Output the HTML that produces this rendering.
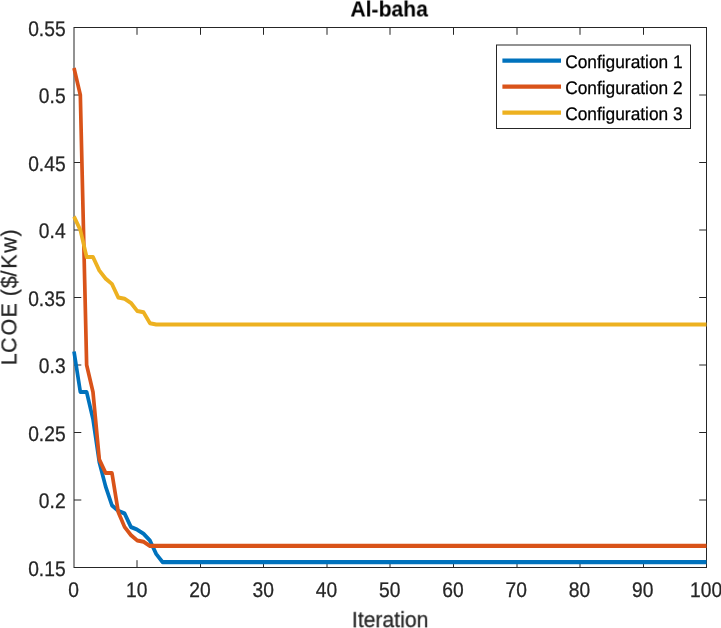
<!DOCTYPE html>
<html><head><meta charset="utf-8"><title>Al-baha</title>
<style>
html,body{margin:0;padding:0;background:#fff;}
body{width:721px;height:628px;overflow:hidden;}
svg{display:block;}
text{font-family:"Liberation Sans",sans-serif;fill:#262626;stroke:#262626;stroke-width:0.25px;}
.t{font-size:19.25px;}
.l{font-size:21.5px;}
.g{font-size:17.35px;fill:#000;stroke:#000;}
</style></head><body>
<svg width="721" height="628" viewBox="0 0 721 628">
<rect x="0" y="0" width="721" height="628" fill="#fff"/>
<g style="will-change:transform">
<defs><clipPath id="c"><rect x="72" y="26" width="636.5" height="543.5"/></clipPath></defs>

<g stroke="#262626" stroke-width="1" fill="none">
<rect x="74.00" y="27.50" width="632.50" height="540.00"/>
<path d="M137.00 567.50v-7.30 M137.00 27.50v7.30"/>
<path d="M200.50 567.50v-7.30 M200.50 27.50v7.30"/>
<path d="M263.50 567.50v-7.30 M263.50 27.50v7.30"/>
<path d="M327.00 567.50v-7.30 M327.00 27.50v7.30"/>
<path d="M390.00 567.50v-7.30 M390.00 27.50v7.30"/>
<path d="M453.50 567.50v-7.30 M453.50 27.50v7.30"/>
<path d="M517.00 567.50v-7.30 M517.00 27.50v7.30"/>
<path d="M580.00 567.50v-7.30 M580.00 27.50v7.30"/>
<path d="M643.50 567.50v-7.30 M643.50 27.50v7.30"/>
<path d="M74.00 500.00h7.30 M706.50 500.00h-7.30"/>
<path d="M74.00 432.50h7.30 M706.50 432.50h-7.30"/>
<path d="M74.00 365.00h7.30 M706.50 365.00h-7.30"/>
<path d="M74.00 297.50h7.30 M706.50 297.50h-7.30"/>
<path d="M74.00 230.00h7.30 M706.50 230.00h-7.30"/>
<path d="M74.00 162.50h7.30 M706.50 162.50h-7.30"/>
<path d="M74.00 95.00h7.30 M706.50 95.00h-7.30"/>
</g>
<g clip-path="url(#c)"><g transform="scale(1,1.1)" fill="none" stroke-width="3.7" stroke-linejoin="round" stroke-linecap="butt">
<polyline stroke="#0072BD" points="74.00,319.545 80.33,356.364 86.65,356.364 92.97,380.909 99.30,420.182 105.62,442.273 111.95,459.455 118.28,464.364 124.60,466.818 130.93,479.091 137.25,481.545 143.57,485.227 149.90,491.364 156.22,503.636 162.55,511.000 168.88,511.000 175.20,511.000 181.53,511.000 187.85,511.000 194.18,511.000 200.50,511.000 206.82,511.000 213.15,511.000 219.47,511.000 225.80,511.000 232.12,511.000 238.45,511.000 244.78,511.000 251.10,511.000 257.43,511.000 263.75,511.000 270.07,511.000 276.40,511.000 282.73,511.000 289.05,511.000 295.38,511.000 301.70,511.000 308.02,511.000 314.35,511.000 320.68,511.000 327.00,511.000 333.32,511.000 339.65,511.000 345.98,511.000 352.30,511.000 358.62,511.000 364.95,511.000 371.27,511.000 377.60,511.000 383.93,511.000 390.25,511.000 396.57,511.000 402.90,511.000 409.23,511.000 415.55,511.000 421.88,511.000 428.20,511.000 434.52,511.000 440.85,511.000 447.18,511.000 453.50,511.000 459.82,511.000 466.15,511.000 472.48,511.000 478.80,511.000 485.12,511.000 491.45,511.000 497.77,511.000 504.10,511.000 510.43,511.000 516.75,511.000 523.08,511.000 529.40,511.000 535.73,511.000 542.05,511.000 548.38,511.000 554.70,511.000 561.02,511.000 567.35,511.000 573.67,511.000 580.00,511.000 586.33,511.000 592.65,511.000 598.98,511.000 605.30,511.000 611.62,511.000 617.95,511.000 624.27,511.000 630.60,511.000 636.92,511.000 643.25,511.000 649.58,511.000 655.90,511.000 662.23,511.000 668.55,511.000 674.88,511.000 681.20,511.000 687.52,511.000 693.85,511.000 700.17,511.000 706.50,511.000"/>
<polyline stroke="#D95319" points="74.00,61.818 80.33,86.364 86.65,331.818 92.97,356.364 99.30,417.727 105.62,430.000 111.95,430.000 118.28,465.591 124.60,479.091 130.93,486.455 137.25,491.364 143.57,492.591 149.90,496.273 156.22,496.273 162.55,496.273 168.88,496.273 175.20,496.273 181.53,496.273 187.85,496.273 194.18,496.273 200.50,496.273 206.82,496.273 213.15,496.273 219.47,496.273 225.80,496.273 232.12,496.273 238.45,496.273 244.78,496.273 251.10,496.273 257.43,496.273 263.75,496.273 270.07,496.273 276.40,496.273 282.73,496.273 289.05,496.273 295.38,496.273 301.70,496.273 308.02,496.273 314.35,496.273 320.68,496.273 327.00,496.273 333.32,496.273 339.65,496.273 345.98,496.273 352.30,496.273 358.62,496.273 364.95,496.273 371.27,496.273 377.60,496.273 383.93,496.273 390.25,496.273 396.57,496.273 402.90,496.273 409.23,496.273 415.55,496.273 421.88,496.273 428.20,496.273 434.52,496.273 440.85,496.273 447.18,496.273 453.50,496.273 459.82,496.273 466.15,496.273 472.48,496.273 478.80,496.273 485.12,496.273 491.45,496.273 497.77,496.273 504.10,496.273 510.43,496.273 516.75,496.273 523.08,496.273 529.40,496.273 535.73,496.273 542.05,496.273 548.38,496.273 554.70,496.273 561.02,496.273 567.35,496.273 573.67,496.273 580.00,496.273 586.33,496.273 592.65,496.273 598.98,496.273 605.30,496.273 611.62,496.273 617.95,496.273 624.27,496.273 630.60,496.273 636.92,496.273 643.25,496.273 649.58,496.273 655.90,496.273 662.23,496.273 668.55,496.273 674.88,496.273 681.20,496.273 687.52,496.273 693.85,496.273 700.17,496.273 706.50,496.273"/>
<polyline stroke="#EDB120" points="74.00,196.818 80.33,209.091 86.65,233.636 92.97,233.636 99.30,245.909 105.62,253.273 111.95,258.182 118.28,270.455 124.60,271.682 130.93,275.364 137.25,282.727 143.57,283.955 149.90,293.773 156.22,295.000 162.55,295.000 168.88,295.000 175.20,295.000 181.53,295.000 187.85,295.000 194.18,295.000 200.50,295.000 206.82,295.000 213.15,295.000 219.47,295.000 225.80,295.000 232.12,295.000 238.45,295.000 244.78,295.000 251.10,295.000 257.43,295.000 263.75,295.000 270.07,295.000 276.40,295.000 282.73,295.000 289.05,295.000 295.38,295.000 301.70,295.000 308.02,295.000 314.35,295.000 320.68,295.000 327.00,295.000 333.32,295.000 339.65,295.000 345.98,295.000 352.30,295.000 358.62,295.000 364.95,295.000 371.27,295.000 377.60,295.000 383.93,295.000 390.25,295.000 396.57,295.000 402.90,295.000 409.23,295.000 415.55,295.000 421.88,295.000 428.20,295.000 434.52,295.000 440.85,295.000 447.18,295.000 453.50,295.000 459.82,295.000 466.15,295.000 472.48,295.000 478.80,295.000 485.12,295.000 491.45,295.000 497.77,295.000 504.10,295.000 510.43,295.000 516.75,295.000 523.08,295.000 529.40,295.000 535.73,295.000 542.05,295.000 548.38,295.000 554.70,295.000 561.02,295.000 567.35,295.000 573.67,295.000 580.00,295.000 586.33,295.000 592.65,295.000 598.98,295.000 605.30,295.000 611.62,295.000 617.95,295.000 624.27,295.000 630.60,295.000 636.92,295.000 643.25,295.000 649.58,295.000 655.90,295.000 662.23,295.000 668.55,295.000 674.88,295.000 681.20,295.000 687.52,295.000 693.85,295.000 700.17,295.000 706.50,295.000"/>
</g></g>
<text class="t" transform="translate(73.55,597.30) skewX(0.05) scale(1,1.105)" text-anchor="middle">0</text>
<text class="t" transform="translate(136.80,597.30) skewX(0.05) scale(1,1.105)" text-anchor="middle">10</text>
<text class="t" transform="translate(200.05,597.30) skewX(0.05) scale(1,1.105)" text-anchor="middle">20</text>
<text class="t" transform="translate(263.30,597.30) skewX(0.05) scale(1,1.105)" text-anchor="middle">30</text>
<text class="t" transform="translate(326.55,597.30) skewX(0.05) scale(1,1.105)" text-anchor="middle">40</text>
<text class="t" transform="translate(389.80,597.30) skewX(0.05) scale(1,1.105)" text-anchor="middle">50</text>
<text class="t" transform="translate(453.05,597.30) skewX(0.05) scale(1,1.105)" text-anchor="middle">60</text>
<text class="t" transform="translate(516.30,597.30) skewX(0.05) scale(1,1.105)" text-anchor="middle">70</text>
<text class="t" transform="translate(579.55,597.30) skewX(0.05) scale(1,1.105)" text-anchor="middle">80</text>
<text class="t" transform="translate(642.80,597.30) skewX(0.05) scale(1,1.105)" text-anchor="middle">90</text>
<text class="t" transform="translate(706.05,597.30) skewX(0.05) scale(1,1.105)" text-anchor="middle">100</text>
<text class="t" transform="translate(65.60,575.55) skewX(0.05) scale(1,1.1)" text-anchor="end">0.15</text>
<text class="t" transform="translate(65.60,508.05) skewX(0.05) scale(1,1.1)" text-anchor="end">0.2</text>
<text class="t" transform="translate(65.60,440.55) skewX(0.05) scale(1,1.1)" text-anchor="end">0.25</text>
<text class="t" transform="translate(65.60,373.05) skewX(0.05) scale(1,1.1)" text-anchor="end">0.3</text>
<text class="t" transform="translate(65.60,305.55) skewX(0.05) scale(1,1.1)" text-anchor="end">0.35</text>
<text class="t" transform="translate(65.60,238.05) skewX(0.05) scale(1,1.1)" text-anchor="end">0.4</text>
<text class="t" transform="translate(65.60,170.55) skewX(0.05) scale(1,1.1)" text-anchor="end">0.45</text>
<text class="t" transform="translate(65.60,103.05) skewX(0.05) scale(1,1.1)" text-anchor="end">0.5</text>
<text class="t" transform="translate(65.60,35.55) skewX(0.05) scale(1,1.1)" text-anchor="end">0.55</text>
<text class="l" transform="translate(390.20,627.50) skewX(0.05) scale(1,1.065)" text-anchor="middle" style="font-size:21.2px">Iteration</text>
<text class="l" transform="translate(16.4,364) rotate(-90)" x="-1.36 10.96 28.58 46.54 61 67.87 75.87 87.6 95.3 111.13 127.57">LCOE ($/Kw)</text>
<text class="l" transform="translate(389.20,16.60) skewX(0.05) scale(1,1.055)" text-anchor="middle" font-weight="bold" style="font-size:21.2px;fill:#000;stroke:none">Al-baha</text>
<rect x="496.5" y="45" width="194" height="83.5" fill="none" stroke="#262626" stroke-width="1"/>
<path d="M502.4 60.60H561" stroke="#0072BD" stroke-width="4.25" fill="none"/>
<text class="g" transform="translate(565.15,67.60) skewX(0.05) scale(1,1.05)" text-anchor="start">Configuration 1</text>
<path d="M502.4 86.65H561" stroke="#D95319" stroke-width="4.25" fill="none"/>
<text class="g" transform="translate(565.15,93.80) skewX(0.05) scale(1,1.05)" text-anchor="start">Configuration 2</text>
<path d="M502.4 112.60H561" stroke="#EDB120" stroke-width="4.25" fill="none"/>
<text class="g" transform="translate(565.15,119.90) skewX(0.05) scale(1,1.05)" text-anchor="start">Configuration 3</text>
</g></svg></body></html>
